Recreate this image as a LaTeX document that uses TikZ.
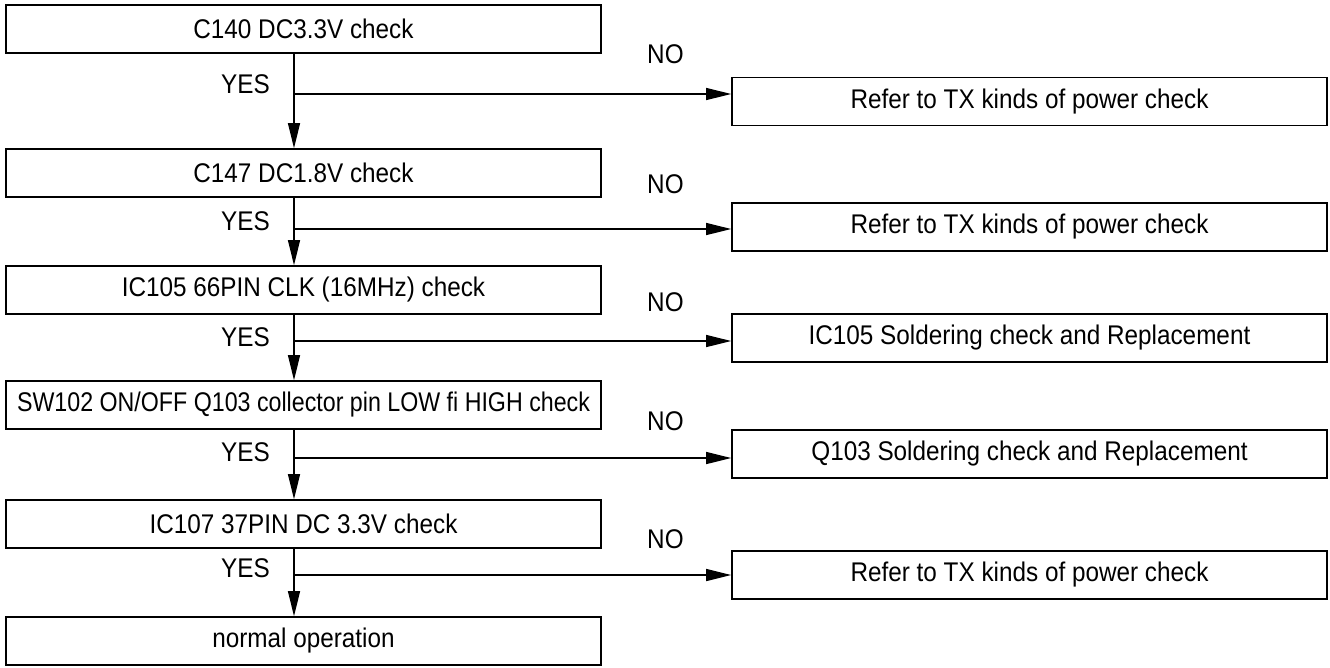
\documentclass[tikz,border=0pt]{standalone}
\usepackage{fontspec}
\setmainfont{Liberation Sans}[FakeStretch=0.9]
\usetikzlibrary{arrows.meta}
\begin{document}
\begin{tikzpicture}[x=1pt,y=-1pt,
  box/.style={draw,line width=1.7pt,minimum width=595pt,minimum height=48pt,inner sep=0pt,font=\fontsize{27}{30}\selectfont},
  lbl/.style={font=\fontsize{27}{30}\selectfont,inner sep=0pt},
  flow/.style={line width=1.4pt,-{Triangle[length=25pt,width=12pt]}}]
\useasboundingbox (0,0) rectangle (1330,667);
% left column
\node[box] (l1) at (303.5,29) {C140 DC3.3V check};
\node[box] (l2) at (303.5,173) {C147 DC1.8V check};
\node[box] (l3) at (303.5,290) {IC105 66PIN CLK (16MHz) check};
\node[box] (l4) at (303.5,405) {\addfontfeatures{FakeStretch=0.86}SW102 ON/OFF Q103 collector pin LOW fi HIGH check};
\node[box] (l5) at (303.5,524) {IC107 37PIN DC 3.3V check};
\node[box] (l6) at (303.5,641) {normal operation};
% right column
\node[box] (r1) at (1029.5,101.5) {Refer to TX kinds of power check};
\node[box] (r2) at (1029.5,227) {Refer to TX kinds of power check};
\node[box] (r3) at (1029.5,338) {IC105 Soldering check and Replacement};
\node[box] (r4) at (1029.5,454) {Q103 Soldering check and Replacement};
\node[box] (r5) at (1029.5,575) {Refer to TX kinds of power check};
% branch points
\coordinate (b1) at (294,94);
\coordinate (b2) at (294,229);
\coordinate (b3) at (294,341);
\coordinate (b4) at (294,458);
\coordinate (b5) at (294,575);
% vertical flow
\draw[flow] (l1.south -| b1) -- (l2.north -| b1);
\draw[flow] (l2.south -| b2) -- (l3.north -| b2);
\draw[flow] (l3.south -| b3) -- (l4.north -| b3);
\draw[flow] (l4.south -| b4) -- (l5.north -| b4);
\draw[flow] (l5.south -| b5) -- (l6.north -| b5);
% NO branches
\draw[flow] (b1) -- (b1 -| r1.west);
\draw[flow] (b2) -- (b2 -| r2.west);
\draw[flow] (b3) -- (b3 -| r3.west);
\draw[flow] (b4) -- (b4 -| r4.west);
\draw[flow] (b5) -- (b5 -| r5.west);
% labels
\node[lbl,anchor=east] (y1) at (270,84) {YES};
\node[lbl,anchor=east] (y2) at (270,221) {YES};
\node[lbl,anchor=east] (y3) at (270,337) {YES};
\node[lbl,anchor=east] (y4) at (270,452) {YES};
\node[lbl,anchor=east] (y5) at (270,568) {YES};
\node[lbl,anchor=west] (n1) at (647,54) {NO};
\node[lbl,anchor=west] (n2) at (647,184) {NO};
\node[lbl,anchor=west] (n3) at (647,302) {NO};
\node[lbl,anchor=west] (n4) at (647,421) {NO};
\node[lbl,anchor=west] (n5) at (647,539) {NO};
\end{tikzpicture}
\end{document}
